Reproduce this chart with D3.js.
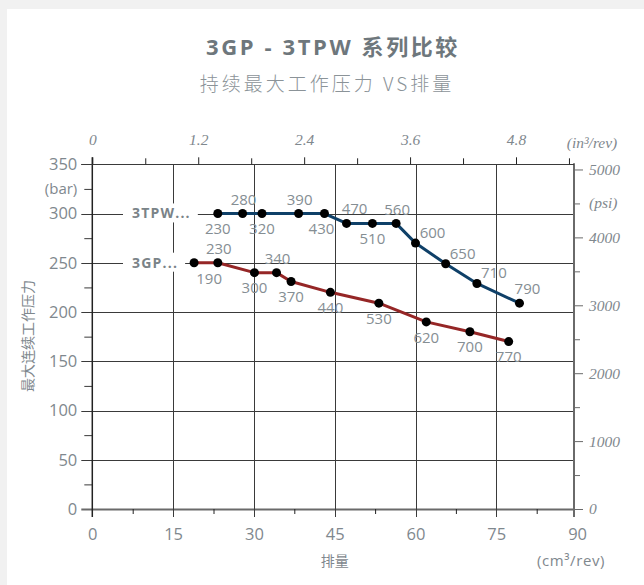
<!DOCTYPE html>
<html>
<head>
<meta charset="utf-8">
<script src="https://cdn.jsdelivr.net/npm/d3@7"></script>
<style>
  html, body { margin: 0; padding: 0; background: #f1f1f1; }
  svg { display: block; }
</style>
</head>
<body>
<svg id="chart" width="644" height="585"></svg>
<script>
// ---------- data ----------
const titleText = "3GP - 3TPW 系列比较";
const subtitleText = "持续最大工作压力 VS排量";
const yAxisTitle = "最大连续工作压力";
const xAxisTitle = "排量";
const xUnit = "(cm³/rev)";
const yUnit = "(bar)";
const topUnit = "(in³/rev)";
const rightUnit = "(psi)";

const seriesNames = ["3TPW...", "3GP..."];

// 3TPW series: displacement (cm3/rev), pressure (bar), model label
const tpwDisp = [23.3, 27.9, 31.5, 38.3, 43.1, 47.2, 52.0, 56.4, 60.0, 65.6, 71.4, 79.3];
const tpwBar  = [300, 300, 300, 300, 300, 290, 290, 290, 270, 249, 229, 209];
const tpwLabels = ["230", "280", "320", "390", "430", "470", "510", "560", "600", "650", "710", "790"];

// 3GP series
const gpDisp = [18.9, 23.3, 30.1, 34.2, 36.9, 44.2, 53.2, 62.0, 70.1, 77.3];
const gpBar  = [250, 250, 240, 240, 231, 220, 209, 190, 180, 170];
const gpLabels = ["190", "230", "300", "340", "370", "440", "530", "620", "700", "770"];

// axis tick labels
const xTicks = [0, 15, 30, 45, 60, 75, 90];
const yTicks = [0, 50, 100, 150, 200, 250, 300, 350];
const topTicks = [0, 1.2, 2.4, 3.6, 4.8];
const rightTicks = [0, 1000, 2000, 3000, 4000, 5000];

// label placement (style): b = below, a = above, ar = above-right, r = right-up, br = below-right
const tpwPlace = ["b", "a", "b", "a", "bl", "ar", "b", "a", "r", "r", "r", "ar"];
const gpPlace  = ["br", "a", "b", "a", "b", "b", "b", "b", "b", "b"];

(function () {
const CM3_PER_IN3 = 16.387;
const PSI_PER_BAR = 14.5038;

const svg = d3.select("#chart");
const W = 644, H = 585;
const pL = 92.3, pR = 574, pT = 164.3, pB = 509;

const x = d3.scaleLinear().domain([0, 90]).range([pL, 577.1]);
const y = d3.scaleLinear().domain([0, 350]).range([pB, pT]);
const xTop = d3.scaleLinear().domain([0, 90 / CM3_PER_IN3]).range(x.range());
const yRight = d3.scaleLinear().domain([0, 350 * PSI_PER_BAR]).range(y.range());

const textGray = "#7f888e";
const gridCol = "#3a3a3a";
const axisCol = "#6a6a6a";
const sansFont = "'Open Sans', 'Noto Sans CJK SC', sans-serif";
const serifFont = "'Liberation Serif', 'DejaVu Serif', serif";

// background card
svg.append("rect").attr("x", 0).attr("y", 0).attr("width", W).attr("height", H).attr("fill", "#f1f1f1");
svg.append("rect").attr("x", 7).attr("y", 9).attr("width", W).attr("height", H).attr("fill", "#ffffff");

// titles
svg.append("text").attr("x", 333).attr("y", 55).attr("text-anchor", "middle")
  .attr("font-family", "'Open Sans', 'Noto Sans CJK SC', sans-serif").attr("font-weight", 700)
  .attr("font-size", 22).attr("letter-spacing", 2.6).attr("fill", "#6e777c").text(titleText);
svg.append("text").attr("x", 327).attr("y", 91).attr("text-anchor", "middle")
  .attr("font-family", "'Noto Sans CJK SC', sans-serif").attr("font-weight", 300)
  .attr("font-size", 19).attr("letter-spacing", 3).attr("fill", "#8b9398").text(subtitleText);

// ---------- grid ----------
const grid = svg.append("g");
grid.selectAll("line.h").data(yTicks).join("line")
  .attr("x1", pL - 11).attr("x2", pR)
  .attr("y1", d => Math.round(y(d)) + 0.5).attr("y2", d => Math.round(y(d)) + 0.5)
  .attr("stroke", d => d === 0 ? axisCol : gridCol).attr("stroke-width", d => d === 0 ? 2 : 1);
grid.selectAll("line.v").data(xTicks.filter(d => d > 0 && d < 90)).join("line")
  .attr("x1", d => Math.round(x(d)) + 0.5).attr("x2", d => Math.round(x(d)) + 0.5)
  .attr("y1", pT).attr("y2", pB + 8)
  .attr("stroke", gridCol).attr("stroke-width", 1);

// ---------- left axis ----------
const yMinor = d3.range(25, 350, 50);
const gl = svg.append("g").attr("transform", `translate(${pL},0)`)
  .call(d3.axisLeft(y).tickValues(yMinor).tickSize(8).tickFormat(""));
gl.select(".domain").remove();
gl.selectAll(".tick line").attr("stroke", gridCol);
svg.append("line").attr("x1", pL).attr("x2", pL).attr("y1", pT - 7).attr("y2", pB + 8)
  .attr("stroke", "#222").attr("stroke-width", 1.5);
const gLeftLab = svg.append("g").attr("transform", `translate(${pL},0)`)
  .call(d3.axisLeft(y).tickValues(yTicks).tickSize(0).tickPadding(15));
gLeftLab.select(".domain").remove();
gLeftLab.selectAll("text").attr("font-family", sansFont).attr("font-size", 16.5).attr("fill", textGray);
svg.append("text").attr("x", pL - 15).attr("y", y(325)).attr("dy", "0.32em").attr("text-anchor", "end")
  .attr("font-family", sansFont).attr("font-size", 15).attr("fill", textGray).text(yUnit);

// ---------- right axis (psi) ----------
svg.append("line").attr("x1", pR).attr("x2", pR).attr("y1", pT - 1).attr("y2", pB + 8)
  .attr("stroke", axisCol).attr("stroke-width", 2);
const gr = svg.append("g").attr("transform", `translate(${pR},0)`)
  .call(d3.axisRight(yRight).tickValues(d3.range(500, 5001, 1000)).tickSize(6).tickFormat(""));
gr.select(".domain").remove();
gr.selectAll(".tick line").attr("stroke", axisCol);
const gr2 = svg.append("g").attr("transform", `translate(${pR},0)`)
  .call(d3.axisRight(yRight).tickValues(rightTicks).tickSize(9).tickPadding(6).tickFormat(d3.format("d")));
gr2.select(".domain").remove();
gr2.selectAll(".tick line").attr("stroke", axisCol);
gr2.selectAll("text").attr("font-family", serifFont).attr("font-style", "italic")
  .attr("font-size", 15.5).attr("fill", textGray);
svg.append("text").attr("x", pR + 15).attr("y", yRight(4500)).attr("dy", "0.32em")
  .attr("font-family", serifFont).attr("font-style", "italic").attr("font-size", 15.5)
  .attr("fill", textGray).text(rightUnit);

// ---------- bottom axis ----------
const gb = svg.append("g").attr("transform", `translate(0,${pB})`)
  .call(d3.axisBottom(x).tickValues(d3.range(7.5, 90, 15)).tickSize(5).tickFormat(""));
gb.select(".domain").remove();
gb.selectAll(".tick line").attr("stroke", "#222");
const gb2 = svg.append("g").attr("transform", `translate(0,${pB})`)
  .call(d3.axisBottom(x).tickValues(xTicks).tickSize(0).tickPadding(19));
gb2.select(".domain").remove();
gb2.selectAll("text").attr("font-family", sansFont).attr("font-size", 16.5).attr("fill", textGray);
svg.append("text").attr("x", x(45)).attr("y", 566).attr("text-anchor", "middle")
  .attr("font-family", "'Noto Sans CJK SC', sans-serif").attr("font-size", 14).attr("fill", textGray)
  .text(xAxisTitle);
svg.append("text").attr("x", 571).attr("y", 566).attr("text-anchor", "middle")
  .attr("font-family", sansFont).attr("font-size", 15).attr("letter-spacing", 0.6).attr("fill", textGray)
  .text(xUnit);

// ---------- top axis (in3/rev) ----------
svg.append("line").attr("x1", pL - 11).attr("x2", pR).attr("y1", Math.round(pT) + 0.5).attr("y2", Math.round(pT) + 0.5)
  .attr("stroke", gridCol).attr("stroke-width", 1);
const gt = svg.append("g").attr("transform", `translate(0,${pT})`)
  .call(d3.axisTop(xTop).tickValues(d3.range(0.6, 5.5, 1.2)).tickSize(6).tickFormat(""));
gt.select(".domain").remove();
gt.selectAll(".tick line").attr("stroke", "#222");
const gt2 = svg.append("g").attr("transform", `translate(0,${pT})`)
  .call(d3.axisTop(xTop).tickValues(topTicks).tickSize(7).tickPadding(12).tickFormat(d => d === 0 ? "0" : d3.format(".1f")(d)));
gt2.select(".domain").remove();
gt2.selectAll(".tick line").attr("stroke", "#222");
gt2.selectAll("text").attr("font-family", serifFont).attr("font-style", "italic")
  .attr("font-size", 15.5).attr("fill", textGray);
svg.append("text").attr("x", 592).attr("y", pT - 21.5).attr("dy", "0.32em").attr("text-anchor", "middle")
  .attr("font-family", serifFont).attr("font-style", "italic").attr("font-size", 15.5)
  .attr("fill", textGray).text(topUnit);

// y axis title
svg.append("text").attr("transform", `translate(33,336) rotate(-90)`).attr("text-anchor", "middle")
  .attr("font-family", "'Noto Sans CJK SC', sans-serif").attr("font-size", 14).attr("fill", textGray)
  .text(yAxisTitle);

// ---------- series ----------
const seriesDefs = [
  { name: seriesNames[0], disp: tpwDisp, bar: tpwBar, labels: tpwLabels, place: tpwPlace, color: "#0f4068" },
  { name: seriesNames[1], disp: gpDisp, bar: gpBar, labels: gpLabels, place: gpPlace, color: "#952626" }
];

const line = d3.line().x(d => x(d.d)).y(d => y(d.b));
const offsets = {
  b: [0, 15.5], a: [1, -14], ar: [8, -14.5], r: [17, -10.5], br: [15, 16], bl: [-3, 15.5]
};

seriesDefs.forEach(s => {
  const pts = s.disp.map((d, i) => ({ d, b: s.bar[i], lab: s.labels[i], p: s.place[i] }));
  const nameG = svg.append("g");
  const ny = y(pts[0].b);
  const t = nameG.append("text").attr("x", 132).attr("y", ny).attr("dy", "0.35em")
    .attr("font-family", sansFont).attr("font-weight", 700).attr("font-size", 14)
    .attr("letter-spacing", 1.2).attr("fill", "#7a8388").text(s.name);
  const bb = t.node().getBBox();
  nameG.insert("rect", "text").attr("x", bb.x - 9).attr("y", bb.y).attr("width", bb.width + 16)
    .attr("height", bb.height).attr("fill", "#fff");

  svg.append("path").datum(pts).attr("d", line).attr("fill", "none")
    .attr("stroke", s.color).attr("stroke-width", 3).attr("stroke-linejoin", "round");
  svg.append("g").selectAll("circle").data(pts).join("circle")
    .attr("cx", d => x(d.d)).attr("cy", d => y(d.b)).attr("r", 4.5).attr("fill", "#000");
  svg.append("g").selectAll("text").data(pts).join("text")
    .attr("x", d => x(d.d) + offsets[d.p][0]).attr("y", d => y(d.b) + offsets[d.p][1])
    .attr("dy", "0.35em").attr("text-anchor", "middle")
    .attr("font-family", sansFont).attr("font-size", 15).attr("fill", "#858e93")
    .text(d => d.lab);
});
})();
</script>
</body>
</html>
